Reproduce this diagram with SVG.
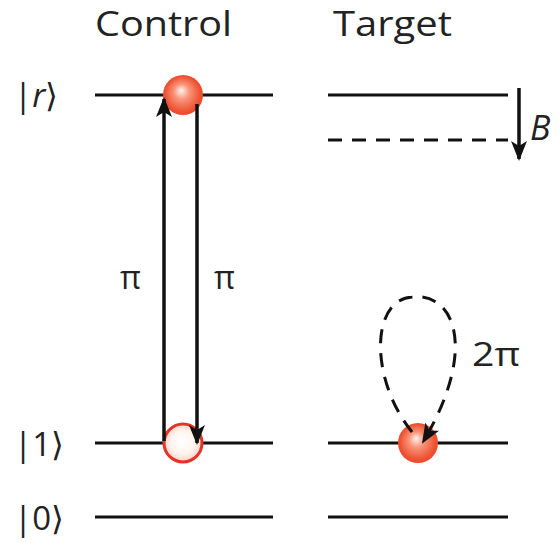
<svg xmlns="http://www.w3.org/2000/svg" width="559" height="543" viewBox="0 0 559 543">
<defs>
<radialGradient id="ball" cx="0.5" cy="0.5" r="0.55" fx="0.45" fy="0.38">
<stop offset="0" stop-color="#fff4ee"/>
<stop offset="0.35" stop-color="#f8957a"/>
<stop offset="0.8" stop-color="#ee5232"/>
<stop offset="1" stop-color="#e8452a"/>
</radialGradient>
<radialGradient id="empty" cx="0.5" cy="0.5" r="0.5" fx="0.47" fy="0.45">
<stop offset="0" stop-color="#ffffff"/>
<stop offset="0.6" stop-color="#fff5ef"/>
<stop offset="1" stop-color="#fbd3c6"/>
</radialGradient>
<marker id="ah" viewBox="0 0 20 16" refX="18" refY="8" markerWidth="20" markerHeight="16" markerUnits="userSpaceOnUse" orient="auto">
<path d="M0,0 L20,8 L0,16 L5,8 z" fill="#111"/>
</marker>
</defs>
<style>
.lvl{stroke:#111;stroke-width:3;fill:none}
.dash{stroke:#111;stroke-width:3;fill:none;stroke-dasharray:14 10}
.arr{stroke:#111;stroke-width:3.5;fill:none}
.lbl{font-family:"Open Sans","Noto Sans",sans-serif;fill:#222}
</style>
<g id="titles">
<text class="lbl" x="95" y="36" font-size="34" textLength="137" lengthAdjust="spacingAndGlyphs">Control</text>
<text class="lbl" x="333" y="36" font-size="34" textLength="119" lengthAdjust="spacingAndGlyphs">Target</text>
</g>
<g id="kets">
<text class="lbl" x="14" y="107" font-size="33">|<tspan font-style="italic">r</tspan>⟩</text>
<text class="lbl" x="14" y="456" font-size="33">|1⟩</text>
<text class="lbl" x="14" y="530" font-size="33">|0⟩</text>
</g>
<g id="levels">
<line class="lvl" x1="95" y1="95" x2="273" y2="95"/>
<line class="lvl" x1="328" y1="95" x2="508" y2="95"/>
<line class="dash" x1="328" y1="140" x2="508" y2="140"/>
<line class="lvl" x1="95" y1="443" x2="273" y2="443"/>
<line class="lvl" x1="328" y1="443" x2="508" y2="443"/>
<line class="lvl" x1="95" y1="517" x2="273" y2="517"/>
<line class="lvl" x1="328" y1="517" x2="508" y2="517"/>
</g>
<g id="control-r">
<circle cx="183" cy="95" r="20" fill="url(#ball)"/>
</g>
<g id="control-1">
<circle cx="183" cy="443" r="19" fill="url(#empty)" stroke="#e3342a" stroke-width="3"/>
</g>
<g id="target-1">
<circle cx="418" cy="443" r="20" fill="url(#ball)"/>
</g>
<g id="connectors">
<line class="arr" x1="164" y1="441" x2="164" y2="99" marker-end="url(#ah)"/>
<line class="arr" x1="197" y1="104" x2="197" y2="443" marker-end="url(#ah)"/>
<line class="arr" x1="519" y1="88" x2="519" y2="159" marker-end="url(#ah)"/>
<path class="dash" d="M412 432 C370 380,370 300,412 297 C455 292,478 350,423 442" marker-end="url(#ah)"/>
</g>
<g id="labels">
<text class="lbl" x="120" y="289" font-size="32">π</text>
<text class="lbl" x="214" y="289" font-size="32">π</text>
<text class="lbl" x="472" y="366" font-size="32" textLength="48" lengthAdjust="spacingAndGlyphs">2π</text>
<text class="lbl" x="530" y="140" font-size="34" font-style="italic">B</text>
</g>
</svg>
